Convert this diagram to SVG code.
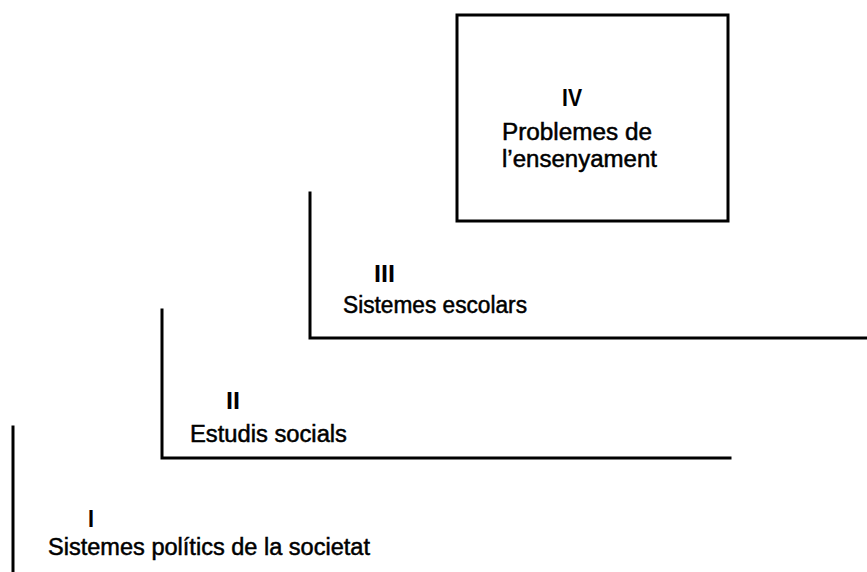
<svg xmlns="http://www.w3.org/2000/svg" width="867" height="572" viewBox="0 0 867 572">
<style>
.ln{fill:none;stroke:#000;stroke-width:3;stroke-linecap:square}
.t{font-family:"Liberation Sans",Arial,sans-serif;font-size:23px;fill:#000;stroke:#000;stroke-width:0.5}
.n{font-family:"Liberation Sans",Arial,sans-serif;font-size:24px;font-weight:bold;fill:#000}
</style>
<rect x="0" y="0" width="867" height="572" fill="#fff"/>
<g id="node-iv">
<rect class="ln" x="457" y="15" width="271" height="206"/>
<text class="n" x="562" y="106" textLength="20" lengthAdjust="spacingAndGlyphs">IV</text>
<text class="t" x="502" y="140" textLength="150" lengthAdjust="spacingAndGlyphs">Problemes  de</text>
<text class="t" x="502" y="167" textLength="155" lengthAdjust="spacingAndGlyphs">l’ensenyament</text>
</g>
<g id="node-iii">
<path class="ln" d="M310 193 V338 H867"/>
<text class="n" x="374" y="282" textLength="21" lengthAdjust="spacingAndGlyphs">III</text>
<text class="t" x="343" y="313" textLength="184" lengthAdjust="spacingAndGlyphs">Sistemes  escolars</text>
</g>
<g id="node-ii">
<path class="ln" d="M162 310 V458 H730"/>
<text class="n" x="226" y="409" textLength="14" lengthAdjust="spacingAndGlyphs">II</text>
<text class="t" x="190" y="442" textLength="157" lengthAdjust="spacingAndGlyphs">Estudis  socials</text>
</g>
<g id="node-i">
<path class="ln" d="M13 427 V572"/>
<text class="n" x="88" y="527" textLength="6" lengthAdjust="spacingAndGlyphs">I</text>
<text class="t" x="48" y="555" textLength="322" lengthAdjust="spacingAndGlyphs">Sistemes polítics de la societat</text>
</g>
<g id="connectors"/>
</svg>
